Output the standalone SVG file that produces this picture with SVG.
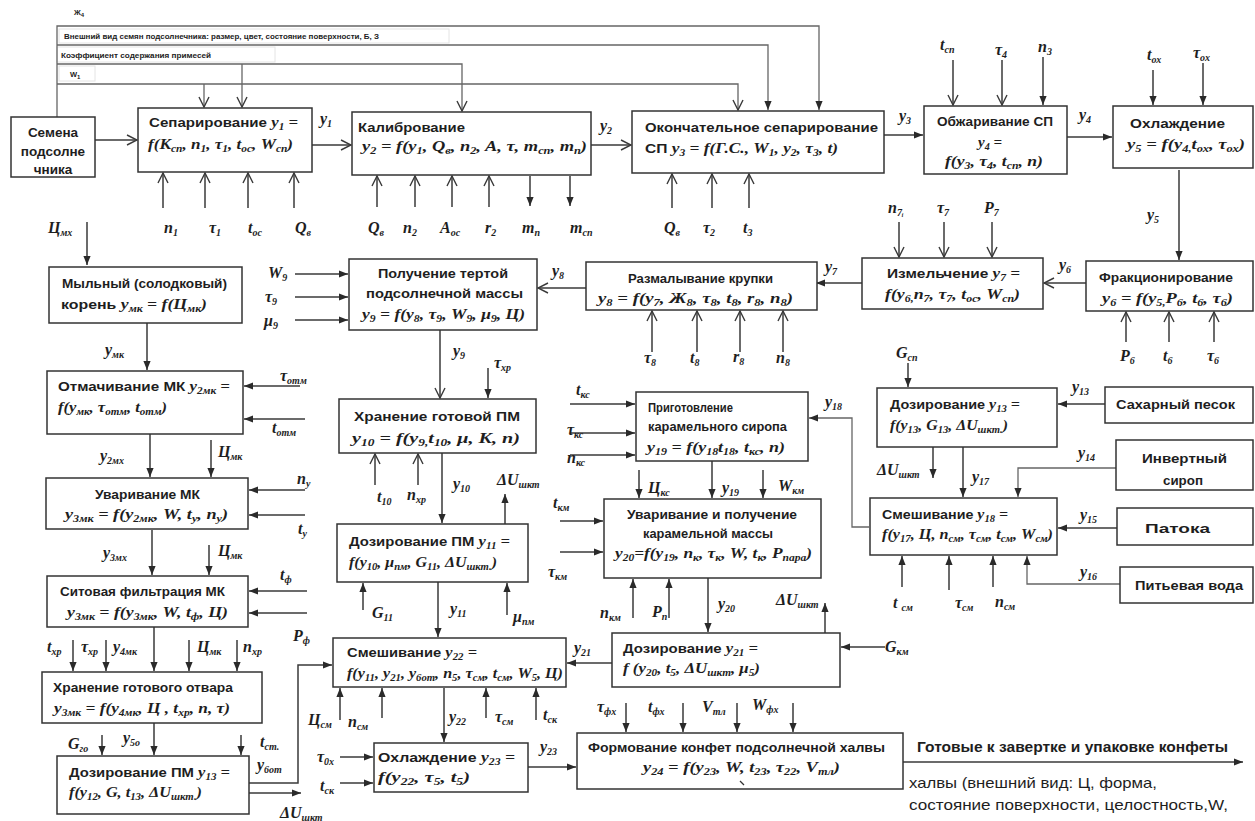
<svg xmlns="http://www.w3.org/2000/svg" width="1255" height="821" viewBox="0 0 1255 821">
<defs>
<style>
.bx{fill:#fff;stroke:#333;stroke-width:1.5}
.fr{fill:#fff;stroke:#e4e4e4;stroke-width:1}
.ln{fill:none;stroke:#3a3a3a;stroke-width:1.5}
.lg{fill:none;stroke:#666;stroke-width:1.3}
.t{font-family:"Liberation Sans",Arial,sans-serif;font-weight:bold;font-size:13.5px;fill:#1e1e1e}
.ts{font-family:"Liberation Sans",Arial,sans-serif;font-weight:bold;font-size:7.5px;fill:#222}
.m{font-family:"Liberation Serif","Times New Roman",serif;font-style:italic;font-weight:bold;font-size:15px;fill:#1e1e1e}
.l{font-family:"Liberation Serif","Times New Roman",serif;font-style:italic;font-weight:bold;font-size:16px;fill:#1e1e1e}
.s{font-size:10px;baseline-shift:-3px}
.c{text-anchor:middle}
.o{font-family:"Liberation Sans",Arial,sans-serif;font-size:14.5px;fill:#1e1e1e}
</style>
<marker id="ao" viewBox="0 0 12 12" refX="11" refY="6" markerWidth="12" markerHeight="12" markerUnits="userSpaceOnUse" orient="auto">
<path d="M1,1 L11,6 L1,11" fill="none" stroke="#3a3a3a" stroke-width="1.4"/>
</marker>
<marker id="af" viewBox="0 0 10 10" refX="10" refY="5" markerWidth="9" markerHeight="9" markerUnits="userSpaceOnUse" orient="auto">
<path d="M0,1 L10,5 L0,9 z" fill="#2a2a2a"/>
</marker>
</defs>
<rect width="1255" height="821" fill="#fff"/>

<!-- upper parameter feeds -->
<g id="top-inputs">
<rect class="fr" x="59" y="29" width="390" height="14"/>
<rect class="fr" x="57" y="47" width="218" height="15"/>
<rect class="fr" x="59" y="66" width="36" height="15"/>
<text class="ts" x="74" y="15" font-size="8">Ж<tspan font-size="6" baseline-shift="-2px">4</tspan></text>
<text class="ts" x="64" y="39" textLength="315" lengthAdjust="spacingAndGlyphs">Внешний вид семян подсолнечника: размер, цвет, состояние поверхности, Б, З</text>
<text class="ts" x="61" y="58" textLength="150" lengthAdjust="spacingAndGlyphs">Коэффициент содержания примесей</text>
<text class="ts" x="70" y="77">W<tspan font-size="6" baseline-shift="-2px">1</tspan></text>
</g>

<!-- connectors -->
<g id="connectors">
<path class="lg" d="M57,117 V26 H819 V110" marker-end="url(#af)"/>
<path class="lg" d="M57,45 H768 V110" marker-end="url(#af)"/>
<path class="lg" d="M57,64 H462 V111" marker-end="url(#ao)"/>
<path class="lg" d="M242,64 V107" marker-end="url(#ao)"/>
<path class="lg" d="M57,84 H738 V110" marker-end="url(#ao)"/>
<path class="lg" d="M204,84 V107" marker-end="url(#ao)"/>

<path class="ln" d="M95,140 H137" marker-end="url(#ao)"/>
<path class="ln" d="M310,145 H351" marker-end="url(#ao)"/>
<circle cx="310" cy="145" r="1.6" fill="#333"/>
<path class="ln" d="M163,208 V173" marker-end="url(#ao)"/>
<path class="ln" d="M205,208 V173" marker-end="url(#ao)"/>
<path class="ln" d="M248,208 V173" marker-end="url(#ao)"/>
<path class="ln" d="M294,208 V173" marker-end="url(#ao)"/>
<path class="ln" d="M377,207 V176" marker-end="url(#ao)"/>
<path class="ln" d="M415,207 V176" marker-end="url(#ao)"/>
<path class="ln" d="M452,207 V176" marker-end="url(#ao)"/>
<path class="ln" d="M489,207 V176" marker-end="url(#ao)"/>
<path class="ln" d="M530,176 V206" marker-end="url(#af)"/>
<path class="ln" d="M570,176 V206" marker-end="url(#af)"/>
<path class="ln" d="M591,145 H631" marker-end="url(#ao)"/>
<path class="ln" d="M672,208 V174" marker-end="url(#ao)"/>
<path class="ln" d="M712,208 V174" marker-end="url(#ao)"/>
<path class="ln" d="M749,208 V174" marker-end="url(#ao)"/>
<path class="ln" d="M884,135 H923" marker-end="url(#af)"/>
<path class="ln" d="M953,60 V105" marker-end="url(#ao)"/>
<path class="ln" d="M1002,60 V105" marker-end="url(#ao)"/>
<path class="ln" d="M1043,57 V105" marker-end="url(#af)"/>
<path class="ln" d="M1067,137 H1112" marker-end="url(#af)"/>
<path class="ln" d="M1153,70 V105" marker-end="url(#af)"/>
<path class="ln" d="M1203,63 V105" marker-end="url(#af)"/>
<path class="ln" d="M1179,170 V260" marker-end="url(#af)"/>
<path class="ln" d="M1126,342 V312" marker-end="url(#ao)"/>
<path class="ln" d="M1169,342 V312" marker-end="url(#ao)"/>
<path class="ln" d="M1214,342 V312" marker-end="url(#ao)"/>
<path class="ln" d="M1086,283 H1044" marker-end="url(#ao)"/>
<path class="ln" d="M899,222 V257" marker-end="url(#ao)"/>
<path class="ln" d="M944,222 V257" marker-end="url(#ao)"/>
<path class="ln" d="M992,222 V257" marker-end="url(#ao)"/>
<path class="ln" d="M862,283 H816" marker-end="url(#af)"/>
<path class="ln" d="M652,352 V311" marker-end="url(#ao)"/>
<path class="ln" d="M697,352 V311" marker-end="url(#ao)"/>
<path class="ln" d="M740,352 V311" marker-end="url(#ao)"/>
<path class="ln" d="M783,352 V311" marker-end="url(#ao)"/>
<path class="ln" d="M586,288 H538" marker-end="url(#ao)"/>
<path class="ln" d="M295,274 H348" marker-end="url(#af)"/>
<path class="ln" d="M295,297 H348" marker-end="url(#af)"/>
<path class="ln" d="M295,320 H348" marker-end="url(#af)"/>
<path class="ln" d="M440,330 V398" marker-end="url(#ao)"/>
<path class="ln" d="M488,368 V398" marker-end="url(#af)"/>

<path class="ln" d="M87,222 V265" marker-end="url(#af)"/>
<path class="ln" d="M147,323 V370" marker-end="url(#af)"/>
<path class="ln" d="M300,386 H244" marker-end="url(#af)"/>
<path class="ln" d="M305,419 H244" marker-end="url(#af)"/>
<path class="ln" d="M150,434 V477" marker-end="url(#af)"/>
<path class="ln" d="M211,440 V477" marker-end="url(#af)"/>
<path class="ln" d="M305,490 H249" marker-end="url(#af)"/>
<path class="ln" d="M305,515 H249" marker-end="url(#af)"/>
<path class="ln" d="M152,530 V575" marker-end="url(#af)"/>
<path class="ln" d="M209,545 V575" marker-end="url(#af)"/>
<path class="ln" d="M307,591 H249" marker-end="url(#af)"/>
<path class="ln" d="M307,613 H249" marker-end="url(#af)"/>
<path class="ln" d="M73,640 V671" marker-end="url(#af)"/>
<path class="ln" d="M106,640 V671" marker-end="url(#af)"/>
<path class="ln" d="M154,627 V671" marker-end="url(#af)"/>
<path class="ln" d="M189,640 V671" marker-end="url(#af)"/>
<path class="ln" d="M237,640 V671" marker-end="url(#af)"/>
<path class="ln" d="M102,735 V755" marker-end="url(#af)"/>
<path class="ln" d="M154,723 V755" marker-end="url(#af)"/>
<path class="ln" d="M241,735 V755" marker-end="url(#af)"/>
<path class="ln" d="M249,783 H298 V665 H332" marker-end="url(#af)"/>
<path class="ln" d="M249,793 H301" marker-end="url(#af)"/>

<path class="ln" d="M375,485 V454" marker-end="url(#ao)"/>
<path class="ln" d="M418,485 V454" marker-end="url(#ao)"/>
<path class="ln" d="M442,453 V523" marker-end="url(#af)"/>
<path class="ln" d="M505,524 V494" marker-end="url(#af)"/>
<path class="ln" d="M363,610 V583" marker-end="url(#af)"/>
<path class="ln" d="M507,615 V583" marker-end="url(#af)"/>
<path class="ln" d="M438,582 V637" marker-end="url(#af)"/>
<path class="ln" d="M612,663 H567" marker-end="url(#af)"/>
<path class="ln" d="M340,720 V688" marker-end="url(#af)"/>
<path class="ln" d="M382,718 V688" marker-end="url(#af)"/>
<path class="ln" d="M486,718 V688" marker-end="url(#af)"/>
<path class="ln" d="M536,720 V688" marker-end="url(#af)"/>
<path class="ln" d="M444,688 V742" marker-end="url(#af)"/>
<path class="ln" d="M340,757 H373" marker-end="url(#af)"/>
<path class="ln" d="M340,783 H373" marker-end="url(#af)"/>
<path class="ln" d="M528,767 H576" marker-end="url(#af)"/>
<path class="ln" d="M626,703 V732" marker-end="url(#af)"/>
<path class="ln" d="M683,703 V732" marker-end="url(#af)"/>
<path class="ln" d="M737,703 V732" marker-end="url(#af)"/>
<path class="ln" d="M793,703 V732" marker-end="url(#af)"/>
<path class="ln" d="M903,762 H1243" marker-end="url(#af)"/>

<path class="ln" d="M570,404 H635" marker-end="url(#af)"/>
<path class="ln" d="M570,433 H635" marker-end="url(#af)"/>
<path class="ln" d="M570,455 H635" marker-end="url(#af)"/>
<path class="lg" d="M869,527 H852 V418 H809" marker-end="url(#af)"/>
<path class="ln" d="M639,470 V498" marker-end="url(#af)"/>
<path class="ln" d="M712,461 V498" marker-end="url(#af)"/>
<path class="ln" d="M763,470 V498" marker-end="url(#af)"/>
<path class="ln" d="M560,521 H603" marker-end="url(#af)"/>
<path class="ln" d="M560,552 H603" marker-end="url(#af)"/>
<path class="ln" d="M633,618 V579" marker-end="url(#af)"/>
<path class="ln" d="M669,618 V579" marker-end="url(#af)"/>
<path class="ln" d="M708,578 V632" marker-end="url(#af)"/>
<path class="ln" d="M825,633 V603" marker-end="url(#af)"/>
<path class="ln" d="M885,647 H841" marker-end="url(#af)"/>

<path class="ln" d="M1105,404 H1058" marker-end="url(#af)"/>
<path class="ln" d="M908,363 V387" marker-end="url(#af)"/>
<path class="ln" d="M933,447 V478" marker-end="url(#af)"/>
<path class="ln" d="M963,447 V497" marker-end="url(#af)"/>
<path class="lg" d="M1116,468 H1018 V497" marker-end="url(#af)"/>
<path class="ln" d="M1117,528 H1058" marker-end="url(#af)"/>
<path class="lg" d="M1120,584 H1027 V556" marker-end="url(#af)"/>
<path class="ln" d="M902,587 V556" marker-end="url(#af)"/>
<path class="ln" d="M949,590 V556" marker-end="url(#af)"/>
<path class="ln" d="M993,587 V556" marker-end="url(#af)"/>
</g>

<!-- connector labels -->
<g id="labels">
<text class="l" x="320" y="124">y<tspan class="s">1</tspan></text>
<text class="l" x="164" y="233">n<tspan class="s">1</tspan></text>
<text class="l" x="209" y="233">τ<tspan class="s">1</tspan></text>
<text class="l" x="248" y="233">t<tspan class="s">ос</tspan></text>
<text class="l" x="295" y="233">Q<tspan class="s">в</tspan></text>
<text class="l" x="368" y="233">Q<tspan class="s">в</tspan></text>
<text class="l" x="403" y="233">n<tspan class="s">2</tspan></text>
<text class="l" x="440" y="233" font-size="14">A<tspan class="s">ос</tspan></text>
<text class="l" x="485" y="233" font-size="14">r<tspan class="s">2</tspan></text>
<text class="l" x="522" y="233">m<tspan class="s">п</tspan></text>
<text class="l" x="570" y="233">m<tspan class="s">сп</tspan></text>
<text class="l" x="600" y="131">y<tspan class="s">2</tspan></text>
<text class="l" x="664" y="233">Q<tspan class="s">в</tspan></text>
<text class="l" x="703" y="233">τ<tspan class="s">2</tspan></text>
<text class="l" x="743" y="233" font-style="normal">t<tspan class="s">3</tspan></text>
<text class="l" x="899" y="121">y<tspan class="s">3</tspan></text>
<text class="l" x="940" y="50">t<tspan class="s">сп</tspan></text>
<text class="l" x="995" y="55">τ<tspan class="s">4</tspan></text>
<text class="l" x="1038" y="52">n<tspan class="s">3</tspan></text>
<text class="l" x="1079" y="120">y<tspan class="s">4</tspan></text>
<text class="l" x="1147" y="60">t<tspan class="s">ох</tspan></text>
<text class="l" x="1193" y="58">τ<tspan class="s">ох</tspan></text>
<text class="l" x="1147" y="220">y<tspan class="s">5</tspan></text>
<text class="l" x="888" y="213">n<tspan class="s">7ᵢ</tspan></text>
<text class="l" x="937" y="213">τ<tspan class="s">7</tspan></text>
<text class="l" x="984" y="213">P<tspan class="s">7</tspan></text>
<text class="l" x="1059" y="270">y<tspan class="s">6</tspan></text>
<text class="l" x="825" y="272">y<tspan class="s">7</tspan></text>
<text class="l" x="1120" y="361">P<tspan class="s">6</tspan></text>
<text class="l" x="1163" y="361">t<tspan class="s">6</tspan></text>
<text class="l" x="1207" y="361">τ<tspan class="s">6</tspan></text>
<text class="l" x="552" y="276">y<tspan class="s">8</tspan></text>
<text class="l" x="644" y="363">τ<tspan class="s">8</tspan></text>
<text class="l" x="690" y="363">t<tspan class="s">8</tspan></text>
<text class="l" x="733" y="362" font-size="14">r<tspan class="s">8</tspan></text>
<text class="l" x="776" y="363">n<tspan class="s">8</tspan></text>
<text class="l" x="268" y="278">W<tspan class="s">9</tspan></text>
<text class="l" x="265" y="302">τ<tspan class="s">9</tspan></text>
<text class="l" x="264" y="326">μ<tspan class="s">9</tspan></text>
<text class="l" x="453" y="356">y<tspan class="s">9</tspan></text>
<text class="l" x="494" y="368">τ<tspan class="s">хр</tspan></text>

<text class="l" x="48" y="233" font-style="normal">Ц<tspan class="s">мх</tspan></text>
<text class="l" x="105" y="355">y<tspan class="s">мк</tspan></text>
<text class="l" x="280" y="381">τ<tspan class="s">отм</tspan></text>
<text class="l" x="272" y="433">t<tspan class="s">отм</tspan></text>
<text class="l" x="100" y="461">y<tspan class="s">2мх</tspan></text>
<text class="l" x="218" y="457" font-style="normal">Ц<tspan class="s">мк</tspan></text>
<text class="l" x="297" y="484">n<tspan class="s">у</tspan></text>
<text class="l" x="298" y="534" font-style="normal">t<tspan class="s">у</tspan></text>
<text class="l" x="103" y="558">y<tspan class="s">3мх</tspan></text>
<text class="l" x="218" y="556" font-style="normal">Ц<tspan class="s">мк</tspan></text>
<text class="l" x="280" y="580">t<tspan class="s">ф</tspan></text>
<text class="l" x="293" y="641" font-style="normal">P<tspan class="s">ф</tspan></text>
<text class="l" x="47" y="652">t<tspan class="s">хр</tspan></text>
<text class="l" x="81" y="652" font-style="normal">τ<tspan class="s">хр</tspan></text>
<text class="l" x="113" y="652">y<tspan class="s">4мк</tspan></text>
<text class="l" x="197" y="652" font-style="normal">Ц<tspan class="s">мк</tspan></text>
<text class="l" x="243" y="652" font-style="normal">п<tspan class="s">хр</tspan></text>
<text class="l" x="68" y="749" font-size="13" font-style="normal">G<tspan class="s">го</tspan></text>
<text class="l" x="123" y="743">y<tspan class="s">5о</tspan></text>
<text class="l" x="260" y="747">t<tspan class="s">ст.</tspan></text>
<text class="l" x="257" y="770">y<tspan class="s">6от</tspan></text>
<text class="l" x="280" y="818">ΔU<tspan class="s">шкт</tspan></text>

<text class="l" x="377" y="502">t<tspan class="s">10</tspan></text>
<text class="l" x="407" y="500">n<tspan class="s">хр</tspan></text>
<text class="l" x="453" y="489">y<tspan class="s">10</tspan></text>
<text class="l" x="497" y="485">ΔU<tspan class="s">шкт</tspan></text>
<text class="l" x="372" y="618">G<tspan class="s">11</tspan></text>
<text class="l" x="450" y="614">y<tspan class="s">11</tspan></text>
<text class="l" x="513" y="622">μ<tspan class="s">пм</tspan></text>
<text class="l" x="574" y="653">y<tspan class="s">21</tspan></text>
<text class="l" x="308" y="725" font-style="normal">Ц<tspan class="s">см</tspan></text>
<text class="l" x="348" y="727">n<tspan class="s">см</tspan></text>
<text class="l" x="449" y="722">y<tspan class="s">22</tspan></text>
<text class="l" x="495" y="722">τ<tspan class="s">см</tspan></text>
<text class="l" x="543" y="720">t<tspan class="s">ск</tspan></text>
<text class="l" x="317" y="762">τ<tspan class="s">0х</tspan></text>
<text class="l" x="320" y="791">t<tspan class="s">ск</tspan></text>
<text class="l" x="540" y="752">y<tspan class="s">23</tspan></text>
<text class="l" x="597" y="712">τ<tspan class="s">фх</tspan></text>
<text class="l" x="648" y="712">t<tspan class="s">фх</tspan></text>
<text class="l" x="702" y="712">V<tspan class="s">тл</tspan></text>
<text class="l" x="752" y="710">W<tspan class="s">фх</tspan></text>

<text class="l" x="576" y="395">t<tspan class="s">кс</tspan></text>
<text class="l" x="567" y="435">τ<tspan class="s">кс</tspan></text>
<text class="l" x="567" y="463">n<tspan class="s">кс</tspan></text>
<text class="l" x="825" y="407">y<tspan class="s">18</tspan></text>
<text class="l" x="648" y="493" font-style="normal">Ц<tspan class="s">кс</tspan></text>
<text class="l" x="722" y="493">y<tspan class="s">19</tspan></text>
<text class="l" x="778" y="491">W<tspan class="s">км</tspan></text>
<text class="l" x="553" y="508">t<tspan class="s">км</tspan></text>
<text class="l" x="548" y="577">τ<tspan class="s">км</tspan></text>
<text class="l" x="600" y="618">n<tspan class="s">км</tspan></text>
<text class="l" x="652" y="617">P<tspan class="s">п</tspan></text>
<text class="l" x="718" y="609">y<tspan class="s">20</tspan></text>
<text class="l" x="776" y="605">ΔU<tspan class="s">шкт</tspan></text>
<text class="l" x="885" y="652">G<tspan class="s">км</tspan></text>

<text class="l" x="896" y="358">G<tspan class="s">сп</tspan></text>
<text class="l" x="1072" y="392">y<tspan class="s">13</tspan></text>
<text class="l" x="877" y="475">ΔU<tspan class="s">шкт</tspan></text>
<text class="l" x="972" y="482">y<tspan class="s">17</tspan></text>
<text class="l" x="1078" y="458">y<tspan class="s">14</tspan></text>
<text class="l" x="1080" y="520">y<tspan class="s">15</tspan></text>
<text class="l" x="1080" y="577">y<tspan class="s">16</tspan></text>
<text class="l" x="893" y="608">t <tspan class="s">см</tspan></text>
<text class="l" x="955" y="608">τ<tspan class="s">см</tspan></text>
<text class="l" x="995" y="607">n<tspan class="s">см</tspan></text>
</g>

<!-- process blocks -->
<g id="n-seeds">
<rect class="bx" x="11" y="117" width="84" height="60"/>
<text class="t c" x="53" y="137">Семена</text>
<text class="t c" x="53" y="156">подсолне</text>
<text class="t c" x="53" y="174">чника</text>
</g>
<g id="n-sep">
<rect class="bx" x="138" y="108" width="174" height="64"/>
<text class="t" x="149" y="127" textLength="149" lengthAdjust="spacingAndGlyphs">Сепарирование <tspan class="m">y<tspan class="s">1</tspan> =</tspan></text>
<text class="m" x="148" y="149" textLength="145" lengthAdjust="spacingAndGlyphs">f(К<tspan class="s">сп</tspan>, n<tspan class="s">1</tspan>, τ<tspan class="s">1</tspan>, t<tspan class="s">ос</tspan>, W<tspan class="s">сп</tspan>)</text>
</g>
<g id="n-calib">
<rect class="bx" x="352" y="112" width="239" height="63"/>
<text class="t" x="358" y="132" textLength="107" lengthAdjust="spacingAndGlyphs">Калибрование</text>
<text class="m" x="362" y="151" textLength="225" lengthAdjust="spacingAndGlyphs">y<tspan class="s">2</tspan> = f(y<tspan class="s">1</tspan>, Q<tspan class="s">в</tspan>, n<tspan class="s">2</tspan>, A, τ, m<tspan class="s">сп</tspan>, m<tspan class="s">п</tspan>)</text>
</g>
<g id="n-finalsep">
<rect class="bx" x="632" y="111" width="252" height="62"/>
<text class="t" x="645" y="132" textLength="233" lengthAdjust="spacingAndGlyphs">Окончательное сепарирование</text>
<text class="t" x="645" y="153" textLength="193" lengthAdjust="spacingAndGlyphs">СП <tspan class="m">y<tspan class="s">3</tspan> = f(Г.С., W<tspan class="s">1</tspan>, y<tspan class="s">2</tspan>, τ<tspan class="s">3</tspan>, t)</tspan></text>
</g>
<g id="n-roast">
<rect class="bx" x="924" y="106" width="143" height="68"/>
<text class="t" x="937" y="126" textLength="116" lengthAdjust="spacingAndGlyphs">Обжаривание СП</text>
<text class="m" x="978" y="147">y<tspan class="s">4</tspan> =</text>
<text class="m" x="945" y="166" textLength="98" lengthAdjust="spacingAndGlyphs">f(y<tspan class="s">3</tspan>, τ<tspan class="s">4</tspan>, t<tspan class="s">сп</tspan>, n)</text>
</g>
<g id="n-cool1">
<rect class="bx" x="1113" y="106" width="140" height="62"/>
<text class="t" x="1130" y="128" textLength="95" lengthAdjust="spacingAndGlyphs">Охлаждение</text>
<text class="m" x="1127" y="149" textLength="118" lengthAdjust="spacingAndGlyphs">y<tspan class="s">5</tspan> = f(y<tspan class="s">4,</tspan>t<tspan class="s">ох</tspan>, τ<tspan class="s">ох</tspan>)</text>
</g>
<g id="n-fract">
<rect class="bx" x="1086" y="261" width="167" height="50"/>
<text class="t" x="1099" y="282" textLength="134" lengthAdjust="spacingAndGlyphs">Фракционирование</text>
<text class="m" x="1102" y="303" textLength="131" lengthAdjust="spacingAndGlyphs">y<tspan class="s">6</tspan> = f(y<tspan class="s">5,</tspan>P<tspan class="s">6</tspan>, t<tspan class="s">6</tspan>, τ<tspan class="s">6</tspan>)</text>
</g>
<g id="n-grind">
<rect class="bx" x="862" y="258" width="181" height="51"/>
<text class="t" x="887" y="278" textLength="133" lengthAdjust="spacingAndGlyphs">Измельчение <tspan class="m">y<tspan class="s">7</tspan> =</tspan></text>
<text class="m" x="885" y="299" textLength="135" lengthAdjust="spacingAndGlyphs">f(y<tspan class="s">6,</tspan>n<tspan class="s">7</tspan>, τ<tspan class="s">7</tspan>, t<tspan class="s">ос</tspan>, W<tspan class="s">сп</tspan>)</text>
</g>
<g id="n-mill">
<rect class="bx" x="586" y="262" width="231" height="48"/>
<text class="t" x="628" y="283" textLength="145" lengthAdjust="spacingAndGlyphs">Размалывание крупки</text>
<text class="m" x="598" y="303" textLength="195" lengthAdjust="spacingAndGlyphs">y<tspan class="s">8</tspan> = f(y<tspan class="s">7</tspan>, Ж<tspan class="s">8</tspan>, τ<tspan class="s">8</tspan>, t<tspan class="s">8</tspan>, r<tspan class="s">8</tspan>, n<tspan class="s">8</tspan>)</text>
</g>
<g id="n-paste">
<rect class="bx" x="349" y="259" width="188" height="71"/>
<text class="t" x="378" y="278" textLength="130" lengthAdjust="spacingAndGlyphs">Получение тертой</text>
<text class="t" x="366" y="298" textLength="157" lengthAdjust="spacingAndGlyphs">подсолнечной массы</text>
<text class="m" x="362" y="319" textLength="163" lengthAdjust="spacingAndGlyphs">y<tspan class="s">9</tspan> = f(y<tspan class="s">8</tspan>, τ<tspan class="s">9</tspan>, W<tspan class="s">9</tspan>, μ<tspan class="s">9</tspan>, Ц)</text>
</g>
<g id="n-root">
<rect class="bx" x="49" y="267" width="193" height="56"/>
<text class="t" x="62" y="288" textLength="165" lengthAdjust="spacingAndGlyphs">Мыльный (солодковый)</text>
<text class="t" x="61" y="309" textLength="146" lengthAdjust="spacingAndGlyphs">корень  <tspan class="m">y<tspan class="s">мк</tspan> = f(Ц<tspan class="s">мк</tspan>)</tspan></text>
</g>
<g id="n-soak">
<rect class="bx" x="47" y="371" width="196" height="63"/>
<text class="t" x="58" y="391" textLength="172" lengthAdjust="spacingAndGlyphs">Отмачивание МК  <tspan class="m">y<tspan class="s">2мк</tspan> =</tspan></text>
<text class="m" x="58" y="412" textLength="109" lengthAdjust="spacingAndGlyphs">f(y<tspan class="s">мк</tspan>, τ<tspan class="s">отм</tspan>, t<tspan class="s">отм</tspan>)</text>
</g>
<g id="n-boil">
<rect class="bx" x="46" y="478" width="202" height="51"/>
<text class="t" x="95" y="499" textLength="105" lengthAdjust="spacingAndGlyphs">Уваривание МК</text>
<text class="m" x="65" y="519" textLength="163" lengthAdjust="spacingAndGlyphs">y<tspan class="s">3мк</tspan> = f(y<tspan class="s">2мк</tspan>, W, t<tspan class="s">у</tspan>, n<tspan class="s">у</tspan>)</text>
</g>
<g id="n-sieve">
<rect class="bx" x="47" y="576" width="201" height="51"/>
<text class="t" x="60" y="596" textLength="165" lengthAdjust="spacingAndGlyphs">Ситовая фильтрация МК</text>
<text class="m" x="67" y="617" textLength="161" lengthAdjust="spacingAndGlyphs">y<tspan class="s">3мк</tspan> = f(y<tspan class="s">3мк</tspan>, W, t<tspan class="s">ф</tspan>, Ц)</text>
</g>
<g id="n-store-decoction">
<rect class="bx" x="42" y="672" width="220" height="51"/>
<text class="t" x="53" y="692" textLength="180" lengthAdjust="spacingAndGlyphs">Хранение готового отвара</text>
<text class="m" x="54" y="713" textLength="176" lengthAdjust="spacingAndGlyphs">y<tspan class="s">3мк</tspan> = f(y<tspan class="s">4мк</tspan>, Ц , t<tspan class="s">хр</tspan>, п, τ)</text>
</g>
<g id="n-dose-pm13">
<rect class="bx" x="57" y="756" width="192" height="58"/>
<text class="t" x="69" y="777" textLength="161" lengthAdjust="spacingAndGlyphs">Дозирование ПМ <tspan class="m">y<tspan class="s">13</tspan> =</tspan></text>
<text class="m" x="69" y="797" textLength="133" lengthAdjust="spacingAndGlyphs">f(y<tspan class="s">12</tspan>, G, t<tspan class="s">13</tspan>, ΔU<tspan class="s">шкт.</tspan>)</text>
</g>
<g id="n-store-pm">
<rect class="bx" x="339" y="399" width="197" height="54"/>
<text class="t" x="354" y="421" textLength="166" lengthAdjust="spacingAndGlyphs">Хранение готовой ПМ</text>
<text class="m" x="352" y="443" textLength="168" lengthAdjust="spacingAndGlyphs">y<tspan class="s">10</tspan> = f(y<tspan class="s">9,</tspan>t<tspan class="s">10</tspan>, μ, K, n)</text>
</g>
<g id="n-dose-pm11">
<rect class="bx" x="337" y="524" width="191" height="58"/>
<text class="t" x="349" y="546" textLength="161" lengthAdjust="spacingAndGlyphs">Дозирование ПМ <tspan class="m">y<tspan class="s">11</tspan> =</tspan></text>
<text class="m" x="349" y="567" textLength="148" lengthAdjust="spacingAndGlyphs">f(y<tspan class="s">10</tspan>, μ<tspan class="s">пм</tspan>, G<tspan class="s">11</tspan>, ΔU<tspan class="s">шкт.</tspan>)</text>
</g>
<g id="n-mix22">
<rect class="bx" x="333" y="638" width="233" height="49"/>
<text class="t" x="347" y="657" textLength="130" lengthAdjust="spacingAndGlyphs">Смешивание <tspan class="m">y<tspan class="s">22</tspan> =</tspan></text>
<text class="m" x="347" y="678" textLength="216" lengthAdjust="spacingAndGlyphs">f(y<tspan class="s">11</tspan>, y<tspan class="s">21</tspan>, y<tspan class="s">6от</tspan>, n<tspan class="s">5</tspan>, τ<tspan class="s">см</tspan>, t<tspan class="s">см</tspan>, W<tspan class="s">5</tspan>, Ц)</text>
</g>
<g id="n-cool23">
<rect class="bx" x="374" y="743" width="154" height="49"/>
<text class="t" x="378" y="762" textLength="137" lengthAdjust="spacingAndGlyphs">Охлаждение <tspan class="m">y<tspan class="s">23</tspan> =</tspan></text>
<text class="m" x="378" y="782" textLength="92" lengthAdjust="spacingAndGlyphs">f(y<tspan class="s">22</tspan>, τ<tspan class="s">5</tspan>, t<tspan class="s">5</tspan>)</text>
</g>
<g id="n-form">
<rect class="bx" x="577" y="733" width="326" height="56"/>
<text class="t" x="588" y="752" textLength="297" lengthAdjust="spacingAndGlyphs">Формование конфет подсолнечной халвы</text>
<text class="m" x="643" y="772" textLength="197" lengthAdjust="spacingAndGlyphs">y<tspan class="s">24</tspan> = f(y<tspan class="s">23</tspan>, W, t<tspan class="s">23</tspan>, τ<tspan class="s">22</tspan>, V<tspan class="s">тл</tspan>)</text>
<path d="M740,781 L744,785" stroke="#333" stroke-width="1.2"/>
</g>
<g id="n-syrup">
<rect class="bx" x="636" y="392" width="172" height="69"/>
<text class="t" x="648" y="412" textLength="85" lengthAdjust="spacingAndGlyphs">Приготовление</text>
<text class="t" x="648" y="431" textLength="139" lengthAdjust="spacingAndGlyphs">карамельного сиропа</text>
<text class="m" x="647" y="452" textLength="138" lengthAdjust="spacingAndGlyphs">y<tspan class="s">19</tspan> = f(y<tspan class="s">18</tspan>t<tspan class="s">18</tspan>, t<tspan class="s">кс</tspan>, n)</text>
</g>
<g id="n-caramel">
<rect class="bx" x="604" y="499" width="217" height="79"/>
<text class="t" x="627" y="519" textLength="170" lengthAdjust="spacingAndGlyphs">Уваривание и получение</text>
<text class="t" x="643" y="538" textLength="130" lengthAdjust="spacingAndGlyphs">карамельной массы</text>
<text class="m" x="615" y="558" textLength="197" lengthAdjust="spacingAndGlyphs">y<tspan class="s">20</tspan>=f(y<tspan class="s">19</tspan>, n<tspan class="s">к</tspan>, τ<tspan class="s">к</tspan>, W, t<tspan class="s">к</tspan>, P<tspan class="s">пара</tspan>)</text>
</g>
<g id="n-dose21">
<rect class="bx" x="612" y="633" width="228" height="54"/>
<text class="t" x="623" y="653" textLength="135" lengthAdjust="spacingAndGlyphs">Дозирование <tspan class="m">y<tspan class="s">21</tspan> =</tspan></text>
<text class="m" x="623" y="673" textLength="137" lengthAdjust="spacingAndGlyphs">f (y<tspan class="s">20</tspan>, t<tspan class="s">5</tspan>, ΔU<tspan class="s">шкт</tspan>, μ<tspan class="s">5</tspan>)</text>
</g>
<g id="n-sugar">
<rect class="bx" x="1105" y="387" width="148" height="36"/>
<text class="t" x="1116" y="409" textLength="119" lengthAdjust="spacingAndGlyphs">Сахарный песок</text>
</g>
<g id="n-dose13">
<rect class="bx" x="877" y="388" width="180" height="59"/>
<text class="t" x="890" y="409" textLength="130" lengthAdjust="spacingAndGlyphs">Дозирование <tspan class="m">y<tspan class="s">13</tspan> =</tspan></text>
<text class="m" x="890" y="430" textLength="118" lengthAdjust="spacingAndGlyphs">f(y<tspan class="s">13</tspan>, G<tspan class="s">13</tspan>, ΔU<tspan class="s">шкт.</tspan>)</text>
</g>
<g id="n-invert">
<rect class="bx" x="1116" y="440" width="137" height="50"/>
<text class="t" x="1142" y="463" textLength="85" lengthAdjust="spacingAndGlyphs">Инвертный</text>
<text class="t" x="1163" y="485" textLength="40" lengthAdjust="spacingAndGlyphs">сироп</text>
</g>
<g id="n-mix18">
<rect class="bx" x="870" y="498" width="187" height="57"/>
<text class="t" x="882" y="519" textLength="126" lengthAdjust="spacingAndGlyphs">Смешивание <tspan class="m">y<tspan class="s">18</tspan> =</tspan></text>
<text class="m" x="882" y="539" textLength="171" lengthAdjust="spacingAndGlyphs">f(y<tspan class="s">17</tspan>, Ц, n<tspan class="s">см</tspan>, τ<tspan class="s">см</tspan>, t<tspan class="s">см</tspan>, W<tspan class="s">см</tspan>)</text>
</g>
<g id="n-molasses">
<rect class="bx" x="1117" y="508" width="136" height="37"/>
<text class="t" x="1145" y="533" textLength="65" lengthAdjust="spacingAndGlyphs" font-size="15">Патока</text>
</g>
<g id="n-water">
<rect class="bx" x="1120" y="567" width="133" height="36"/>
<text class="t" x="1135" y="590" textLength="108" lengthAdjust="spacingAndGlyphs">Питьевая вода</text>
</g>

<!-- finished product note -->
<g id="n-output">
<text class="o" x="917" y="752" font-weight="bold" textLength="311" lengthAdjust="spacingAndGlyphs">Готовые к завертке и упаковке конфеты</text>
<text class="o" x="909" y="788" textLength="248" lengthAdjust="spacingAndGlyphs">халвы (внешний вид: Ц, форма,</text>
<text class="o" x="909" y="810" textLength="319" lengthAdjust="spacingAndGlyphs">состояние поверхности, целостность,W,</text>
</g>
</svg>
